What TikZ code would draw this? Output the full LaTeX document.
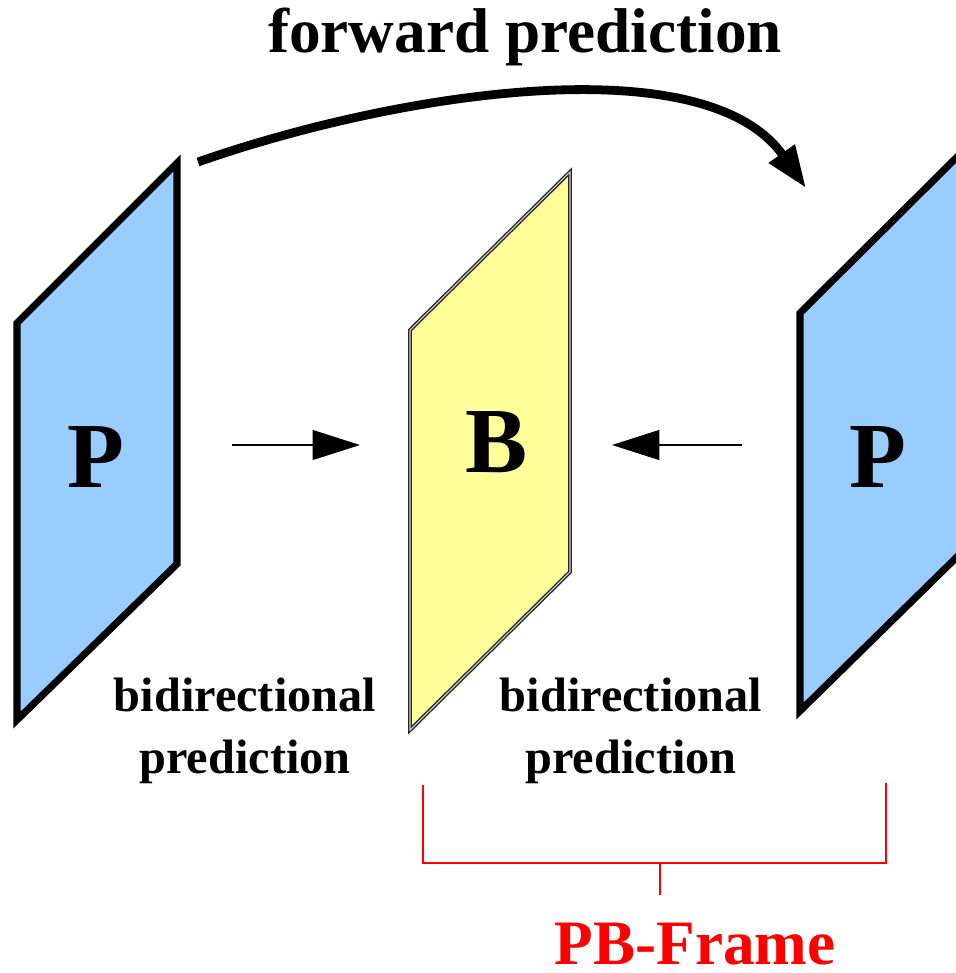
\documentclass[tikz,border=0pt]{standalone}
\usepackage{fontspec}
\setmainfont{Liberation Serif}
\usepackage{tikz}
\usepackage{xcolor}
\usetikzlibrary{arrows.meta, positioning, calc}
\definecolor{pframe}{HTML}{99CCFF}
\definecolor{bframe}{HTML}{FFFF99}
\definecolor{pbred}{HTML}{FF0000}

\begin{document}
\begin{tikzpicture}[
  x=0.02cm, y=-0.02cm,
  pf/.style={draw=black, fill=pframe, line width=4pt, line join=miter},
  bf/.style={draw=black!85, fill=bframe, line width=0.8pt, double=gray!35, double distance=0.6pt},
  big/.style={font=\bfseries\fontsize{53}{53}\selectfont, inner sep=0pt, anchor=base},
  lbl/.style={font=\bfseries\fontsize{27.5}{35.7}\selectfont, align=center, inner sep=0pt},
  ttl/.style={font=\bfseries\fontsize{36}{36}\selectfont, inner sep=0pt, anchor=base},
  ar/.style={-{Triangle[length=27pt, width=17pt]}, line width=1pt},
  far/.style={-{Triangle[length=24pt, width=17pt]}, line width=5pt},
  br/.style={draw=pbred, line width=1.4pt}
]
\useasboundingbox (0,0) rectangle (956,973);
\begin{scope}
\clip (0,0) rectangle (956,973);
% frames
\draw[pf] (17,323) -- (177,163) -- (177,564) -- (17,720) -- cycle;
\draw[bf] (410,330) -- (570,172) -- (570,572) -- (410,730) -- cycle;
\draw[pf] (800,313) -- (962,152) -- (962,552) -- (800,711) -- cycle;
\end{scope}

\node[big] (pl) at (96,487) {P};
\node[big] (b) at (497,472) {B};
\node[big] (pr) at (878,487) {P};

\node[ttl] (fwd) at (525,53) {forward prediction};
\node[lbl] (bil) at (245,731) {bidirectional\\prediction};
\node[lbl] (bir) at (631,731) {bidirectional\\prediction};
\node[ttl, text=pbred] (pbf) at (695,964) {PB-Frame};

% arrows
\coordinate (fs) at (198,162);
\coordinate (fe) at (806,188);
\coordinate (l1) at (232,445);
\coordinate (l2) at (360,445);
\coordinate (r1) at (742,445);
\coordinate (r2) at (612,445);
\draw[far] (fs) .. controls (398,92) and (705,45) .. (fe);
\draw[ar] (l1) -- (l2);
\draw[ar] (r1) -- (r2);

% bracket
\coordinate (ba) at (423,785);
\coordinate (bb) at (886,783);
\coordinate (bm) at (660,863);
\draw[br] (ba) |- (bm) -| (bb);
\draw[br] (bm) -- ++(0,32);
\end{tikzpicture}
\end{document}
